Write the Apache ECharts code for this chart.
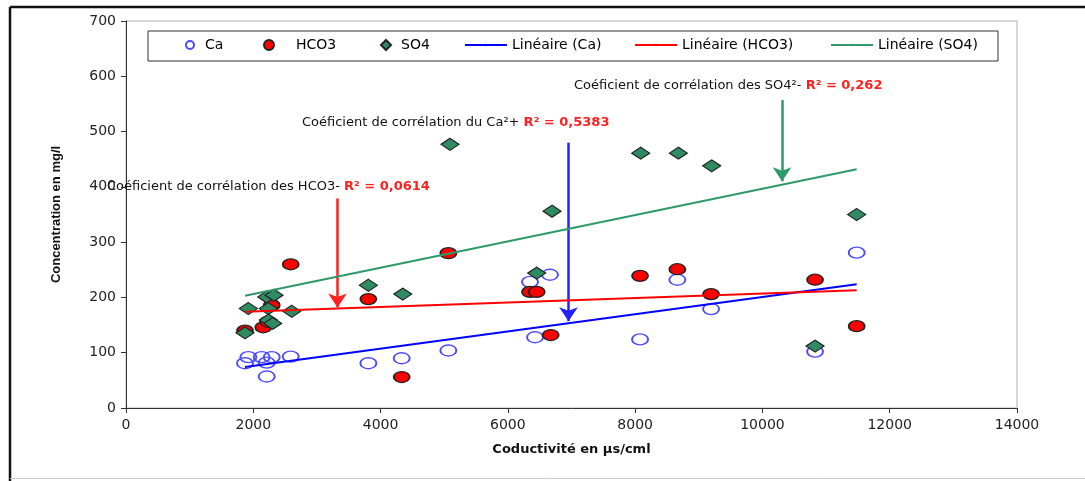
<!DOCTYPE html>
<html><head><meta charset="utf-8">
<script src="https://cdn.jsdelivr.net/npm/echarts@6/dist/echarts.min.js"></script>
<style>html,body{margin:0;padding:0;background:#fff}#c{width:1085px;height:481px}</style>
</head><body><div id="c"></div>
<script>
// ---- data ----
const caPoints = [[1922,92],[1870,81],[2132,92],[2290,92],[2588,93],[2211,82],[2211,57],[3808,81],[4332,90],[5065,104],[6427,128],[6662,241],[6348,228],[8077,124],[8663,232],[9193,179],[10827,102],[11481,281]];
const hco3Points = [[2588,260],[2290,186],[2157,146],[1870,140],[2231,156],[5065,280],[3808,197],[4332,56],[6348,210],[6453,210],[6673,132],[8077,239],[8663,251],[9193,206],[10827,232],[11481,148]];
const so4Points = [[1922,180],[1870,136],[2211,201],[2325,204],[2237,180],[2604,175],[2237,159],[2305,153],[3808,222],[4348,206],[6453,244],[5091,477],[6694,356],[8087,461],[8679,461],[9203,438],[11481,350],[10827,112]];
const caTrend = [[1870,74],[11481,224]];
const hco3Trend = [[1870,174],[11481,213]];
const so4Trend = [[1870,203],[11481,432]];
const caArrow = [[6953,480],[6953,157]];
const hco3Arrow = [[3323,379],[3323,182]];
const so4Arrow = [[10308,557],[10308,410]];
const seriesNames = ['Ca','HCO3','SO4','Linéaire (Ca)','Linéaire (HCO3)','Linéaire (SO4)'];
const annoTexts = [
  ['Coéficient de corrélation des SO4²- ','R² = 0,262'],
  ['Coéficient de corrélation du Ca²+ ','R² = 0,5383'],
  ['Coéficient de corrélation des HCO3- ','R² = 0,0614']
];
const xTitle = 'Coductivité en µs/cml';
const yTitle = 'Concentration en mg/l';

const FONT = 'DejaVu Sans';
const chart = echarts.init(document.getElementById('c'), null, {renderer:'canvas'});

function legendAt(name, left, w, h, pad){
  return {data:[name], left:left, top:38, orient:'horizontal', padding:0,
    itemWidth:w, itemHeight:h, z:10,
    textStyle:{fontFamily:FONT, fontSize:14, color:'#000', padding:[0,0,0,pad||0]}};
}
function arrowLine(pts, color){
  return {silent:true, symbol:['none','arrow'], symbolSize:14, label:{show:false},
    lineStyle:{color:color, width:2.5, type:'solid'},
    data:[[{coord:pts[0]},{coord:pts[1]}]]};
}
function annoText(t, left, y){
  return {type:'text', left:left, top:y-8, z:20, silent:true,
    style:{text:'{a|'+t[0]+'}{b|'+t[1]+'}',
      rich:{a:{fontFamily:FONT, fontSize:13, fill:'#111', color:'#111'},
            b:{fontFamily:FONT, fontSize:13, fontWeight:'bold', fill:'#ff2020', color:'#ff2020'}}}};
}

const option = {
  animation:false,
  backgroundColor:'#fff',
  grid:{left:126, right:68, top:21, bottom:73, show:true, borderColor:'#b0b0b0', borderWidth:1, backgroundColor:'transparent'},
  legend:[
    legendAt(seriesNames[0],185,8,8,6),
    legendAt(seriesNames[1],263,10,10,17),
    legendAt(seriesNames[2],380,10,10,5),
    legendAt(seriesNames[3],464,42,3,0),
    legendAt(seriesNames[4],634,42,3,0),
    legendAt(seriesNames[5],830,42,3,0)
  ],
  xAxis:{type:'value', min:0, max:14000, interval:2000,
    name:xTitle, nameLocation:'middle', nameGap:35,
    nameTextStyle:{fontFamily:FONT, fontSize:13, fontWeight:'bold', color:'#111'},
    axisLine:{show:true, onZero:false, lineStyle:{color:'#333', width:1}},
    axisTick:{show:true, inside:false, length:5, lineStyle:{color:'#333'}},
    axisLabel:{fontFamily:FONT, fontSize:14, color:'#222', margin:10, formatter:function(v){return String(v);}},
    splitLine:{show:false}},
  yAxis:{type:'value', min:0, max:700, interval:100,
    name:yTitle, nameLocation:'middle', nameGap:63, nameRotate:90,
    nameTextStyle:{fontFamily:'Liberation Sans', fontSize:13, fontWeight:'bold', color:'#111'},
    axisLine:{show:true, onZero:false, lineStyle:{color:'#333', width:1}},
    axisTick:{show:true, inside:false, length:5, lineStyle:{color:'#333'}},
    axisLabel:{fontFamily:FONT, fontSize:14, color:'#222', margin:10, formatter:function(v){return String(v);}},
    splitLine:{show:false}},
  graphic:[
    {type:'rect', shape:{x:148, y:31, width:850, height:30}, z:1, silent:true,
      style:{fill:'#fff', stroke:'#333', lineWidth:1}},
    {type:'line', shape:{x1:10, y1:7, x2:1085, y2:7}, z:1, silent:true, style:{stroke:'#111', lineWidth:2.5}},
    {type:'line', shape:{x1:10, y1:7, x2:10, y2:481}, z:1, silent:true, style:{stroke:'#111', lineWidth:2.5}},
    {type:'line', shape:{x1:10, y1:478.5, x2:1085, y2:478.5}, z:1, silent:true, style:{stroke:'#ccc', lineWidth:1}},
    annoText(annoTexts[0], 574, 87),
    annoText(annoTexts[1], 302, 124),
    annoText(annoTexts[2], 107, 188)
  ],
  series:[
    {name:seriesNames[0], type:'scatter', data:caPoints, symbol:'circle', symbolSize:[16,11], z:2,
      itemStyle:{color:'rgba(255,255,255,0)', borderColor:'#4a4aff', borderWidth:1.6, opacity:1}},
    {name:seriesNames[1], type:'scatter', data:hco3Points, symbol:'circle', symbolSize:[16,11], z:3,
      itemStyle:{color:'#ff0000', borderColor:'#222', borderWidth:1.5, opacity:1}},
    {name:seriesNames[2], type:'scatter', data:so4Points, symbol:'diamond', symbolSize:[18,12], z:4,
      itemStyle:{color:'#2e8b62', borderColor:'#222', borderWidth:1.2, opacity:1}},
    {name:seriesNames[3], type:'line', data:caTrend, symbol:'none', z:5,
      lineStyle:{color:'#0000ff', width:2}, itemStyle:{color:'#0000ff'},
      markLine:arrowLine(caArrow,'#2222ff')},
    {name:seriesNames[4], type:'line', data:hco3Trend, symbol:'none', z:5,
      lineStyle:{color:'#ff0000', width:2}, itemStyle:{color:'#ff0000'},
      markLine:arrowLine(hco3Arrow,'#ff2020')},
    {name:seriesNames[5], type:'line', data:so4Trend, symbol:'none', z:5,
      lineStyle:{color:'#2e9a6a', width:2}, itemStyle:{color:'#2e9a6a'},
      markLine:arrowLine(so4Arrow,'#2e9a6a')}
  ]
};
chart.setOption(option);
</script></body></html>
